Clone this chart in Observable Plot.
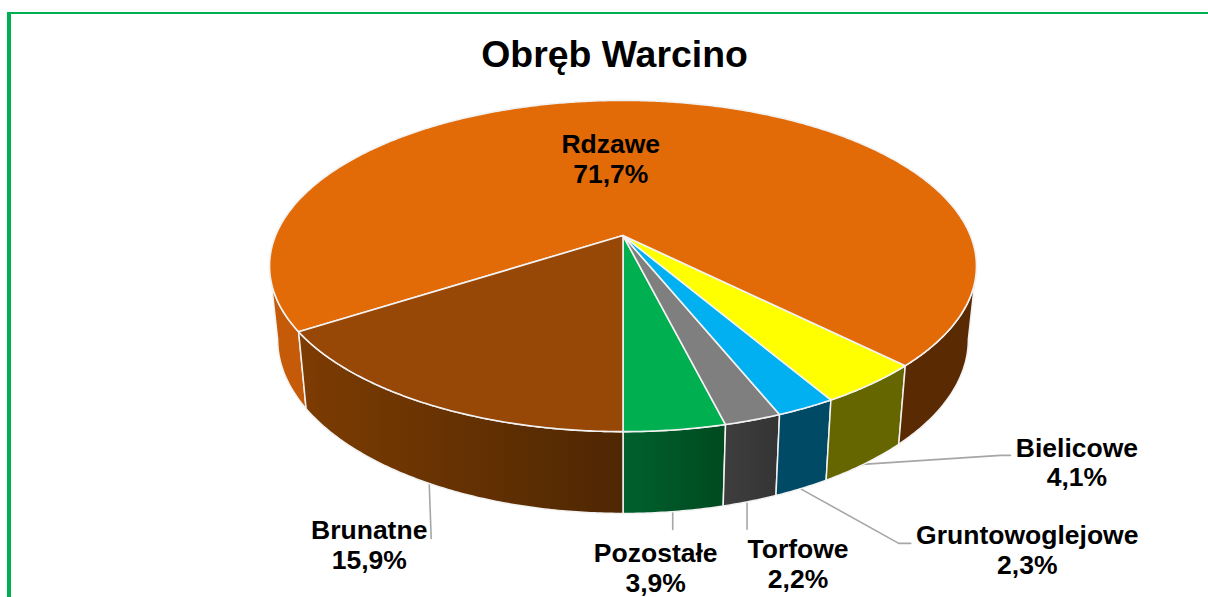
<!DOCTYPE html>
<html lang="pl">
<head>
<meta charset="utf-8">
<script src="https://cdn.jsdelivr.net/npm/d3@7"></script>
<script src="https://cdn.jsdelivr.net/npm/@observablehq/plot@0.6"></script>
<style>
  html, body { margin: 0; padding: 0; background: #fff; width: 1208px; height: 597px; overflow: hidden; }
  #frame { position: absolute; left: 7px; top: 12px; width: 1300px; height: 700px; box-sizing: border-box;
           border-left: 4px solid #00B050; border-top: 2.5px solid #00B050; }
  #chart { position: absolute; left: 0; top: 0; }
  svg { display: block; background: transparent !important; }
</style>
</head>
<body>
<div id="frame"></div>
<div id="chart"></div>
<script>
// DATA — in drawing order, starting at the front of the pie and running anticlockwise
const titleText = "Obręb Warcino";
const categories = ["Pozostałe", "Torfowe", "Gruntowoglejowe", "Bielicowe", "Rdzawe", "Brunatne"];
const shares = [3.9, 2.2, 2.3, 4.1, 71.7, 15.9];

// STYLE
const topColors = ["#00B050", "#7F7F7F", "#00B0F0", "#FFFF00", "#E26B08", "#974706"];
const sideFills = ["url(#sidePoz)", "url(#sideTorf)", "#004A66", "#666600", null, "url(#sideBrun)"];
const rimRight = "#5A2B03";
const rimLeft = "#C55A08";
const gradients = [
  {id: "sidePoz", from: "#00602E", to: "#004A20"},
  {id: "sideTorf", from: "#3E3E3E", to: "#343434"},
  {id: "sideBrun", from: "#7D3C02", to: "#4E2703"}
];
// label offsets from each slice's outer rim, in pixels
const labelOffsets = {
  "Pozostałe": [-18, 56], "Torfowe": [48, 62], "Gruntowoglejowe": [225.5, 61],
  "Bielicowe": [211.5, -1.5], "Rdzawe": [-43.5, 57], "Brunatne": [-60, 61]
};
// leader-line points relative to the rim, in pixels (first point is the start at the rim)
const leaderBends = {
  "Pozostałe": [[-1, 0], [-1, 18]], "Torfowe": [[-3, 0], [-3, 28]],
  "Gruntowoglejowe": [[-2, 0], [97, 55], [109, 55]],
  "Bielicowe": [[-3, 1], [135, -8], [145, -8]], "Brunatne": [[0, 0], [2, 55]]
};

// PIE GEOMETRY (perspective disc, as the tilted 3-D pie)
const persp = 0.1843, pxX = 347.4, pxY = 160;
const drop = 72 / pxY, shrinkX = 0.977, stretchY = 1.05;
const rad = d => d * Math.PI / 180;
const topPt = a => {
  const u = Math.sin(rad(a)), v = Math.cos(rad(a)), d = 1 - persp * v;
  return {x: u / d, y: v / d};
};
const lowPt = a => {
  const p = topPt(a);
  return {x: p.x * shrinkX, y: drop + p.y * stretchY};
};
const arc = (a, b, f) => {
  const n = Math.max(2, Math.ceil(Math.abs(b - a) / 0.5));
  return d3.range(n + 1).map(i => f(a + (b - a) * i / n));
};
const total = d3.sum(shares);
let acc = 0;
const slices = categories.map((name, i) => {
  const a0 = acc / total * 360; acc += shares[i];
  const a1 = acc / total * 360;
  return {name, value: shares[i], a0, a1, mid: (a0 + a1) / 2, color: topColors[i], side: sideFills[i]};
});
const limit = Math.acos(persp) * 180 / Math.PI;
const wall = (a, b) => [...arc(a, b, topPt), ...arc(b, a, lowPt)];

const marks = [];
// leader lines
for (const s of slices) {
  const bends = leaderBends[s.name];
  if (!bends) continue;
  const o = lowPt(s.mid);
  const pts = bends.map(([dx, dy]) => ({x: o.x + dx / pxX, y: o.y + dy / pxY}));
  marks.push(Plot.line(pts, {x: "x", y: "y", stroke: "#A6A6A6", strokeWidth: 1.6}));
}
// side walls
for (const s of slices) {
  const base = {x: "x", y: "y", curve: "linear-closed", stroke: "#F2F2F2", strokeWidth: 1.5};
  if (s.side) {
    marks.push(Plot.line(wall(s.a0, s.a1), {...base, fill: s.side}));
  } else {
    marks.push(Plot.line(wall(s.a0, limit), {...base, fill: rimRight}));
    marks.push(Plot.line(wall(360 - limit, s.a1), {...base, fill: rimLeft}));
  }
}
// top faces
for (const s of slices) {
  marks.push(Plot.line([{x: 0, y: 0}, ...arc(s.a0, s.a1, topPt)], {
    x: "x", y: "y", curve: "linear-closed", fill: s.color, stroke: "#F2F2F2", strokeWidth: 1.6
  }));
}
// labels
const labelData = slices.map(s => {
  const p = s.name === "Rdzawe" ? topPt(s.mid) : lowPt(s.mid);
  const [dx, dy] = labelOffsets[s.name];
  return {x: p.x + dx / pxX, y: p.y + dy / pxY,
          text: s.name + "\n" + s.value.toFixed(1).replace(".", ",") + "%"};
});
marks.push(Plot.text(labelData, {
  x: "x", y: "y", text: "text", fontSize: 26.5, fontWeight: 700, fill: "#000",
  fontFamily: "Liberation Sans, Arial, sans-serif", lineHeight: 1.13, lineAnchor: "middle", textAnchor: "middle"
}));
// title
marks.push(Plot.text([titleText], {
  text: d => d, frameAnchor: "top", dx: 10, dy: 55, lineAnchor: "middle",
  fontSize: 37.4, fontWeight: 700, fill: "#000", fontFamily: "Liberation Sans, Arial, sans-serif"
}));

const plot = Plot.plot({
  width: 1208, height: 597, margin: 0,
  x: {domain: [-1, 1], range: [622.5 - pxX, 622.5 + pxX], axis: null},
  y: {domain: [-1, 1], range: [235 - pxY, 235 + pxY], axis: null},
  style: {background: "transparent", overflow: "hidden"},
  marks
});
const defs = d3.select(plot).insert("defs", ":first-child");
for (const g of gradients) {
  const lg = defs.append("linearGradient").attr("id", g.id);
  lg.append("stop").attr("offset", "0%").attr("stop-color", g.from);
  lg.append("stop").attr("offset", "100%").attr("stop-color", g.to);
}
document.getElementById("chart").appendChild(plot);
</script>
</body>
</html>
